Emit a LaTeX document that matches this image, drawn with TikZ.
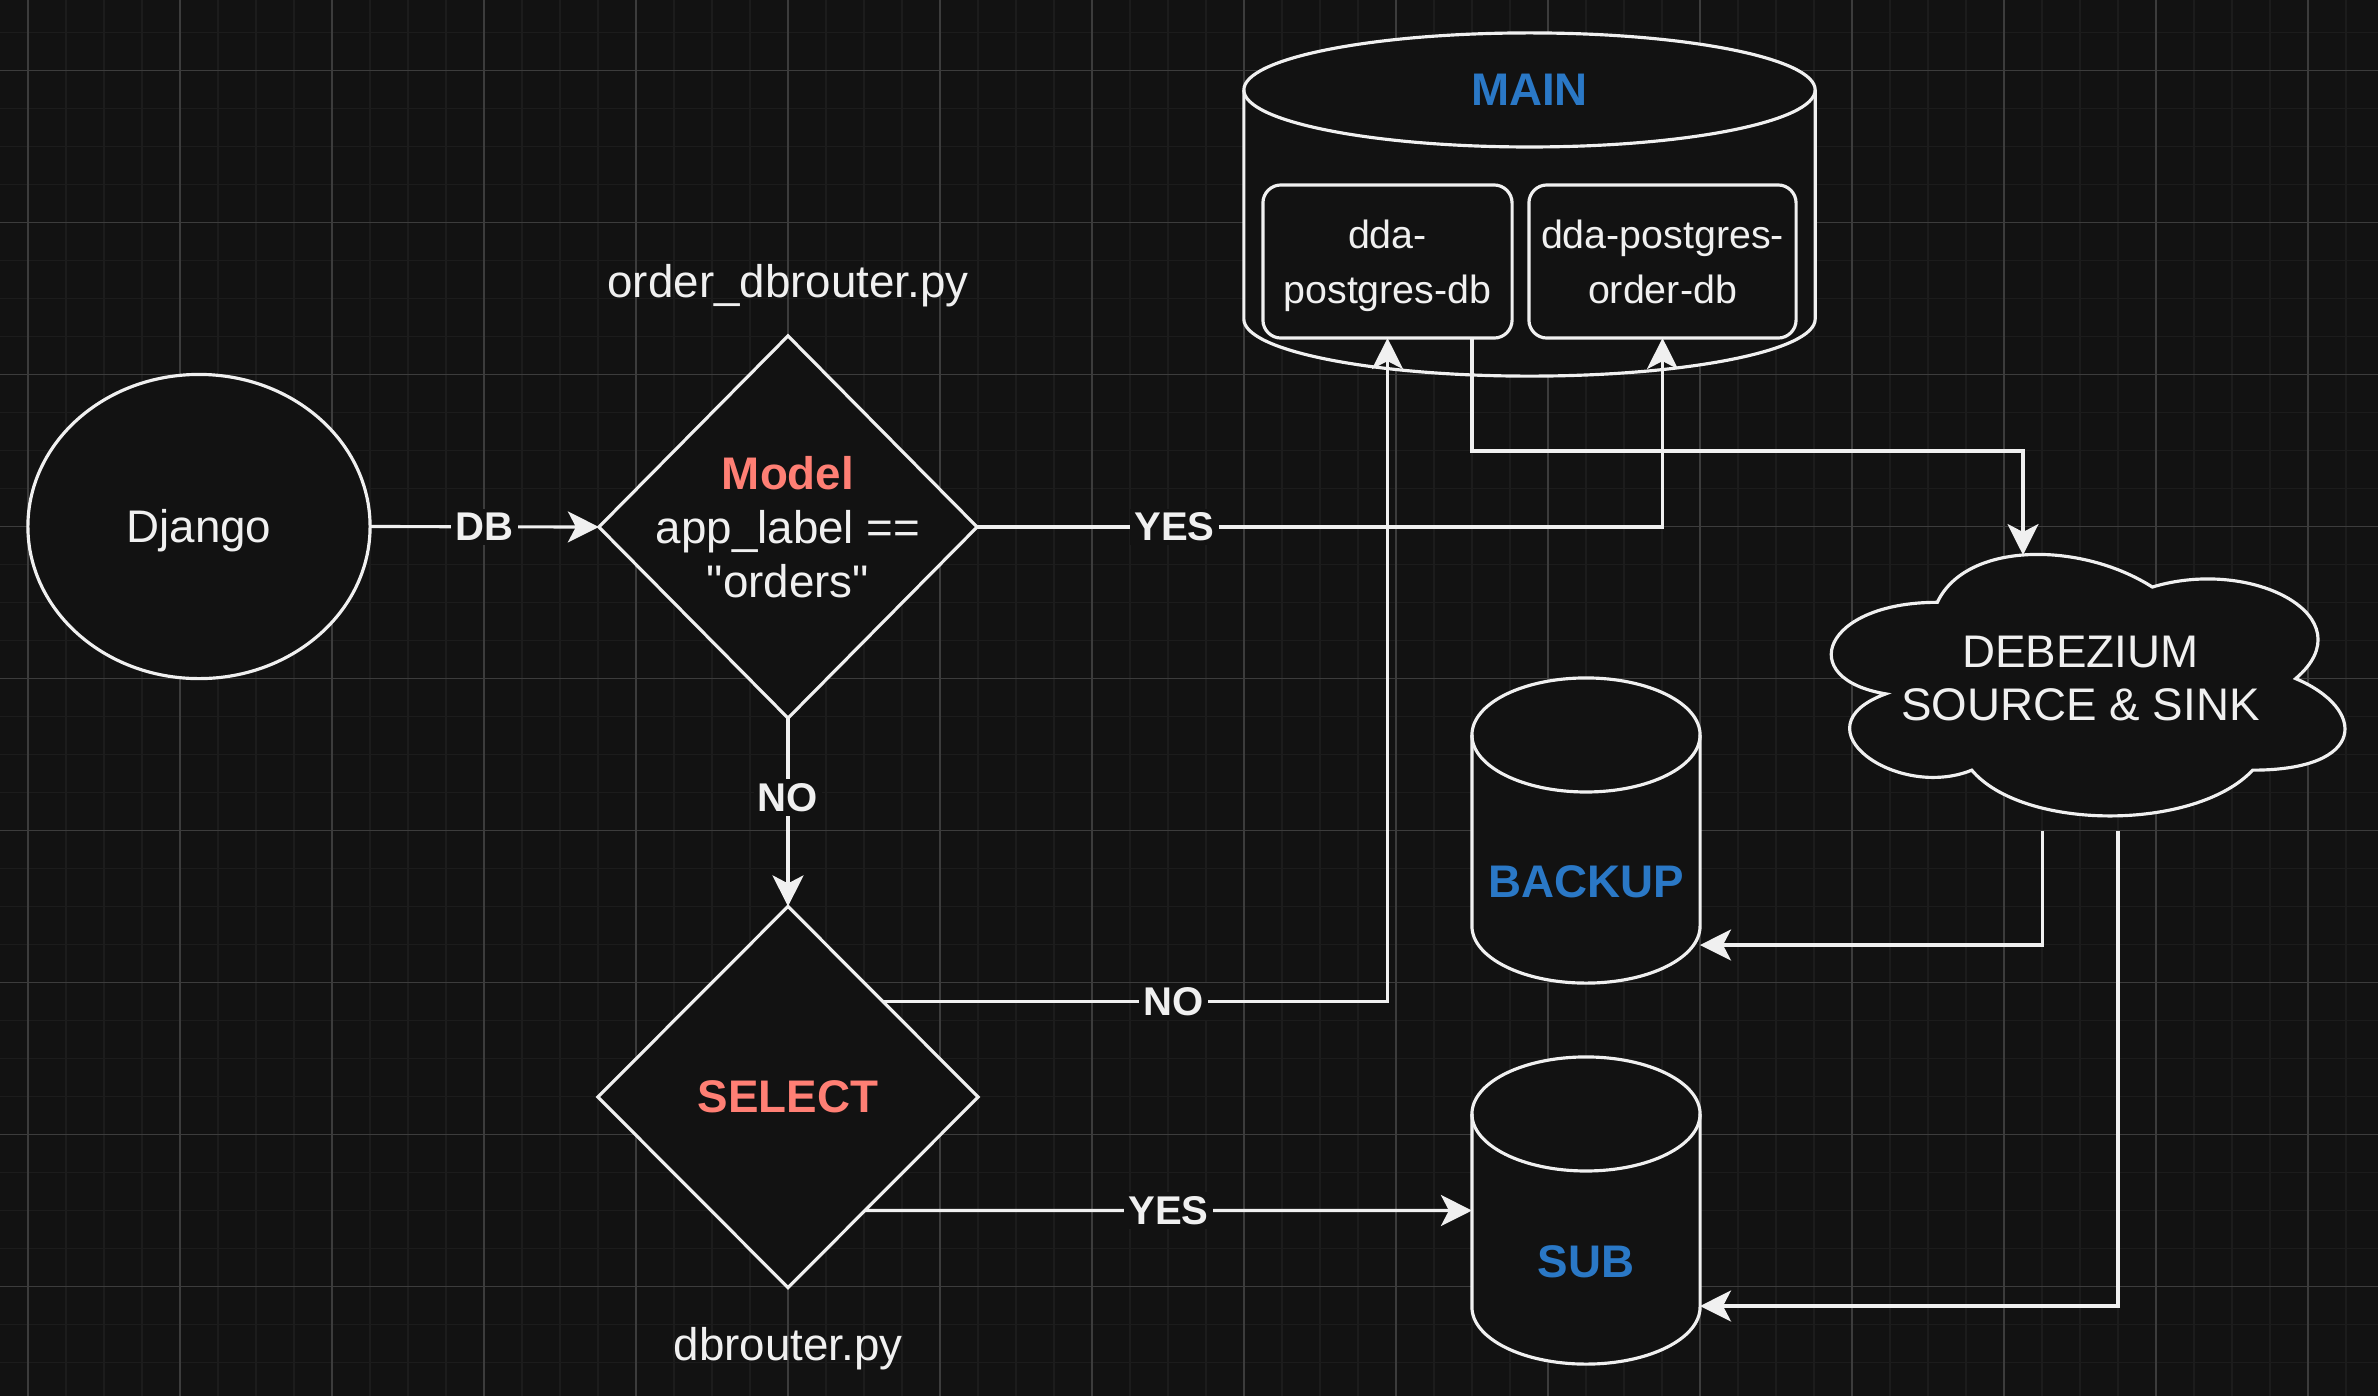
\documentclass[tikz,border=0pt]{standalone}
\usepackage{fontspec}
\setmainfont{Liberation Sans}
\newfontfamily\qfont{Liberation Sans}
\usetikzlibrary{arrows.meta,shapes.geometric,calc}
\definecolor{bg}{HTML}{121212}
\definecolor{gmin}{HTML}{1C1C1C}
\definecolor{gmaj}{HTML}{3C3C3C}
\definecolor{fg}{HTML}{F0F0F0}
\definecolor{lblred}{HTML}{FF7F74}
\definecolor{lblblue}{HTML}{2A78C6}
\tikzset{
  every node/.style={text=fg},
  shp/.style={draw=fg, line width=0.9pt, fill=bg},
  conn/.style={draw=fg, line width=0.9pt},
  arr/.style={conn, -{Stealth[length=0.31cm, width=0.31cm, inset=0.08cm]}},
  elabel/.style={fill=bg, inner sep=1.2pt, font=\fontsize{11.4}{13.7}\selectfont\bfseries},
  bigtxt/.style={font=\fontsize{13}{15.3}\selectfont},
  boldtxt/.style={font=\fontsize{13}{15.3}\selectfont\bfseries},
  smalltxt/.style={font=\fontsize{11.2}{15.6}\selectfont},
  frame/.style={inner sep=0pt, outer sep=0pt},
}
\newcommand{\drawcyl}[2]{%
  \draw[shp] ([yshift=-0.57cm]#1.north west) -- ([yshift=0.57cm]#1.south west)
    arc[start angle=180, end angle=360, x radius=#2, y radius=0.57cm]
    -- ([yshift=-0.57cm]#1.north east)
    arc[start angle=0, end angle=180, x radius=#2, y radius=0.57cm] -- cycle;
  \draw[conn] ([yshift=-0.57cm]#1.north west) arc[start angle=180, end angle=360, x radius=#2, y radius=0.57cm];
}
\newcommand{\nodepth}[1]{\raisebox{0pt}[\height][0pt]{#1}}
\begin{document}
\begin{tikzpicture}[x=0.01cm, y=-0.01cm]
\useasboundingbox (0,0) rectangle (2378,1396);
\fill[bg] (0,0) rectangle (2378,1396);
% grid
\foreach \i in {0,...,61} {\draw[gmin, line width=0.37pt] ({28+38*\i},0) -- ({28+38*\i},1396);}
\foreach \j in {0,...,35} {\draw[gmin, line width=0.37pt] (0,{32.3+38*\j}) -- (2378,{32.3+38*\j});}
\foreach \i in {0,...,15} {\draw[gmaj, line width=0.3pt] ({28+152*\i},0) -- ({28+152*\i},1396);}
\foreach \j in {0,...,8} {\draw[gmaj, line width=0.3pt] (0,{70.3+152*\j}) -- (2378,{70.3+152*\j});}

% Django
\node[shp, ellipse, frame, minimum width=3.42cm, minimum height=3.04cm, bigtxt, text height=0.33cm, text depth=0.02cm] (django) at (199,526.5) {Django};

% decision 1
\node[shp, diamond, frame, minimum width=3.78cm, minimum height=3.82cm] (d1) at (788,527) {};
\node[bigtxt, align=center] (d1txt) at (d1.center) {\textcolor{lblred}{\bfseries Model}\\app\_label ==\\{\qfont "orders"}};
\node[bigtxt, anchor=base] (f1) at (788,297) {order\_dbrouter.py};

% decision 2
\node[shp, diamond, frame, minimum width=3.8cm, minimum height=3.81cm, boldtxt, text=lblred] (d2) at (788,1097) {SELECT};
\node[bigtxt, anchor=base] (f2) at (788,1360) {dbrouter.py};

% MAIN cylinder
\node[frame, minimum width=5.71cm, minimum height=3.43cm] (main) at (1529.5,204.5) {};
\drawcyl{main}{2.855cm}
\node[boldtxt, text=lblblue] (maintxt) at (1529.5,90) {MAIN};
\node[shp, rounded corners=0.18cm, frame, minimum width=2.49cm, minimum height=1.53cm, smalltxt, align=center] (pg) at (1387.5,261.5) {dda-\\\nodepth{postgres-db}};
\node[shp, rounded corners=0.18cm, frame, minimum width=2.67cm, minimum height=1.53cm, smalltxt, align=center] (pgo) at (1662.5,261.5) {dda-postgres-\\order-db};

% cloud
\begin{scope}[shift={(1794,526)}, x=5.73cm, y=-3.05cm]
\draw[shp] (0.25,0.25) .. controls (0.05,0.25) and (0,0.5) .. (0.16,0.55)
 .. controls (0,0.66) and (0.18,0.9) .. (0.31,0.8)
 .. controls (0.4,1) and (0.7,1) .. (0.8,0.8)
 .. controls (1,0.8) and (1,0.6) .. (0.875,0.5)
 .. controls (1,0.3) and (0.8,0.1) .. (0.625,0.2)
 .. controls (0.5,0.05) and (0.3,0.05) .. (0.25,0.25) -- cycle;
\end{scope}
\node[frame, minimum width=5.73cm, minimum height=3.05cm, bigtxt, align=center] (deb) at (2080.5,678.5) {DEBEZIUM\\SOURCE \& SINK};

% BACKUP and SUB
\node[frame, minimum width=2.28cm, minimum height=3.05cm] (backup) at (1586,830.5) {};
\drawcyl{backup}{1.14cm}
\node[boldtxt, text=lblblue] (bktxt) at (1586,882) {BACKUP};
\node[frame, minimum width=2.28cm, minimum height=3.07cm] (sub) at (1586,1210.5) {};
\drawcyl{sub}{1.14cm}
\node[boldtxt, text=lblblue] (subtxt) at (1586,1262) {SUB};

% connectors
\draw[arr] (django.east) -- (d1.west) node[elabel, midway] {DB};
\draw[arr] (d1.east) -| (pgo.south) node[elabel, pos=0.144] {YES};
\draw[arr] (d1.south) -- (d2.north) node[elabel, pos=0.42] {NO};
\draw[arr] (d2.north east) -| (pg.south) node[elabel, pos=0.288] {NO};
\coordinate (d2yes) at ($(d2.east)!0.595!(d2.south)$);
\draw[arr] (d2yes) -- (sub.west) node[elabel, midway] {YES};
\coordinate (pgout) at (1472,338);
\coordinate (debin) at (2023,555);
\draw[arr] (pgout) -- ++(0,113) -| (debin);
\coordinate (debout1) at (2042.5,831);
\coordinate (debout2) at (2118,831);
\coordinate (bkin) at (1700,945);
\coordinate (subin) at (1700,1306);
\draw[arr] (debout1) |- (bkin);
\draw[arr] (debout2) |- (subin);
\end{tikzpicture}
\end{document}
